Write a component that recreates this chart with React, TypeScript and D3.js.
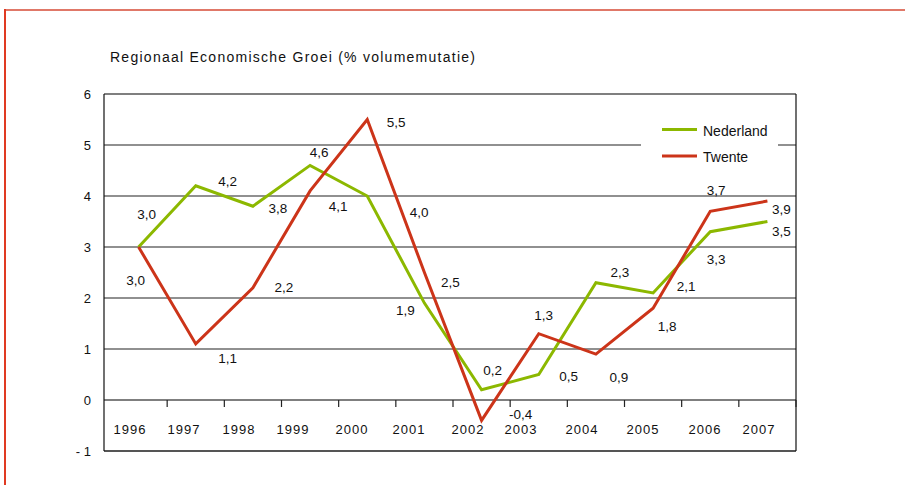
import React from "react";
import * as d3 from "d3";

const years = ["1996","1997","1998","1999","2000","2001","2002","2003","2004","2005","2006","2007"];
const nederland = [3.0, 4.2, 3.8, 4.6, 4.0, 1.9, 0.2, 0.5, 2.3, 2.1, 3.3, 3.5];
const twente = [3.0, 1.1, 2.2, 4.1, 5.5, 2.5, -0.4, 1.3, 0.9, 1.8, 3.7, 3.9];
const yTicks = [-1, 0, 1, 2, 3, 4, 5, 6];
const seriesNames = ["Nederland", "Twente"];
const title = "Regionaal Economische Groei (% volumemutatie)";

// label placement offsets (styling, px)
const nlLabelOffset: [number, number][] = [[8,-33],[32,-5],[25,2],[9,-13],[52,16],[-19,7],[11,-20],[30,2],[24,-10],[33,-7],[6,28],[14,10]];
const twLabelOffset: [number, number][] = [[-3,33],[32,14],[31,-1],[28,15],[29,3],[26,10],[39,-6],[5,-18],[23,23],[14,18],[6,-21],[14,8]];
const yearLabelDx = [-8.6,-11.8,-13.9,-17.1,-15.3,-15.4,-13.6,-17.8,-14,-10.1,-5.3,-8.5];

const GREEN = "#8cb800";
const RED = "#cc3419";
const FONT = "'Liberation Sans', Arial, sans-serif";

export default function App() {
  const W = 905, H = 485;
  const left = 104, right = 796, top = 94, bottom = 451;
  const x = d3.scaleBand<string>().domain(years).range([110, 796]).padding(0);
  const y = d3.scaleLinear().domain([-1, 6]).range([bottom, top]);
  const cx = (i: number) => (x(years[i]) as number) + x.bandwidth() / 2;
  const line = d3.line<number>().x((_, i) => cx(i)).y((d) => y(d));
  const fmt = (v: number) => v.toFixed(1).replace(".", ",");
  const tickXs = years.map((yr) => (x(yr) as number) + x.bandwidth());

  return (
    <svg width={W} height={H} style={{ position: "absolute", left: 0, top: 0, background: "#fff" }} fontFamily={FONT}>
      {/* frame */}
      <line x1={6} x2={W} y1={10} y2={10} stroke="#e07868" strokeWidth={2} />
      <line x1={5} x2={5} y1={9} y2={H} stroke="#e03a22" strokeWidth={2} />

      <text x={110} y={62} fontSize={14} fill="#111" textLength={365} lengthAdjust="spacing">{title}</text>

      {/* gridlines */}
      {yTicks.filter((t) => t > -1 && t < 6).map((t) => (
        <line key={t} x1={left} x2={right} y1={y(t)} y2={y(t)} stroke={t === 0 ? "#000" : "#222"} strokeWidth={1.2} />
      ))}
      <line x1={left} x2={right} y1={top} y2={top} stroke="#555" strokeWidth={1.5} />
      <line x1={left} x2={right} y1={bottom} y2={bottom} stroke="#555" strokeWidth={2} />
      <line x1={left} x2={left} y1={top} y2={bottom} stroke="#111" strokeWidth={1.2} />
      <line x1={right} x2={right} y1={top} y2={bottom} stroke="#111" strokeWidth={1.2} />

      {/* x ticks */}
      {tickXs.map((tx, i) => (
        <line key={i} x1={tx} x2={tx} y1={y(0)} y2={y(0) + 7} stroke="#222" strokeWidth={1.2} />
      ))}

      {/* y labels */}
      {yTicks.map((t) => (
        <text key={t} x={91} y={y(t)} dy="0.35em" textAnchor="end" fontSize={13} fill="#111">
          {t < 0 ? "- " + Math.abs(t) : String(t)}
        </text>
      ))}

      {/* year labels */}
      {years.map((yr, i) => (
        <text key={yr} x={cx(i) + yearLabelDx[i]} y={429} dy="0.35em" textAnchor="middle" fontSize={13} letterSpacing={1} fill="#111">
          {yr}
        </text>
      ))}

      {/* legend */}
      <rect x={641} y={112} width={137} height={58} fill="#fff" />
      <line x1={662} x2={697} y1={129.5} y2={129.5} stroke={GREEN} strokeWidth={3} />
      <text x={703} y={131} dy="0.35em" fontSize={14} fill="#111">{seriesNames[0]}</text>
      <line x1={662} x2={697} y1={156} y2={156} stroke={RED} strokeWidth={3} />
      <text x={703} y={157} dy="0.35em" fontSize={14} fill="#111">{seriesNames[1]}</text>

      {/* lines */}
      <path d={line(nederland) || ""} fill="none" stroke={GREEN} strokeWidth={3} strokeLinejoin="miter" />
      <path d={line(twente) || ""} fill="none" stroke={RED} strokeWidth={3} strokeLinejoin="miter" />

      {/* data labels */}
      {nederland.map((v, i) => (
        <text key={"n" + i} x={cx(i) + nlLabelOffset[i][0]} y={y(v) + nlLabelOffset[i][1]} dy="0.35em" textAnchor="middle" fontSize={13.5} fill="#111">
          {fmt(v)}
        </text>
      ))}
      {twente.map((v, i) => (
        <text key={"t" + i} x={cx(i) + twLabelOffset[i][0]} y={y(v) + twLabelOffset[i][1]} dy="0.35em" textAnchor="middle" fontSize={13.5} fill="#111">
          {fmt(v)}
        </text>
      ))}
    </svg>
  );
}
